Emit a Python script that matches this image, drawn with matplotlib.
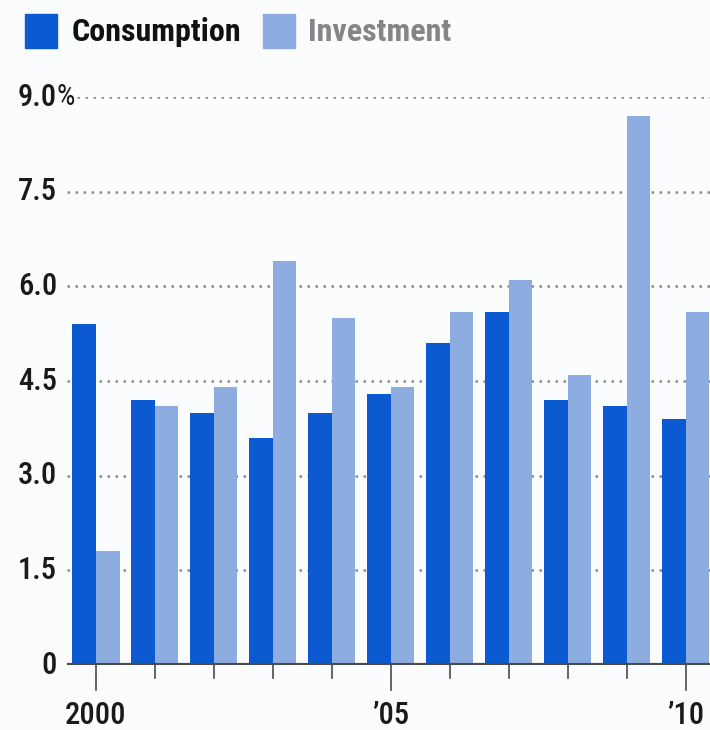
import numpy as np
import matplotlib.pyplot as plt
from matplotlib.patches import Rectangle

years = np.arange(2000, 2011)
consumption = [5.4, 4.2, 4.0, 3.6, 4.0, 4.3, 5.1, 5.6, 4.2, 4.1, 3.9]
investment = [1.8, 4.1, 4.4, 6.4, 5.5, 4.4, 5.6, 6.1, 4.6, 8.7, 5.6]
yticks = [0, 1.5, 3.0, 4.5, 6.0, 7.5, 9.0]
ytick_labels = ['0', '1.5', '3.0', '4.5', '6.0', '7.5', '9.0']
xlabels = {2000: '2000', 2005: '\u201905', 2010: '\u201910'}

dark = '#0b5ad2'
light = '#8dade0'
fonts = ['Liberation Sans Narrow', 'Roboto Condensed', 'Liberation Sans', 'DejaVu Sans']
ink = '#1a1a1a'

fig = plt.figure(figsize=(7.1, 7.3), dpi=100, facecolor='#fbfcfd')
ax = fig.add_axes([67/710, 65/730, 643/710, 568/730])
ax.set_facecolor('#fbfcfd')

w = 0.40
ax.bar(years - w/2, consumption, width=w, color=dark, zorder=2)
ax.bar(years + w/2, investment, width=w, color=light, zorder=2)

ax.set_xlim(1999.51, 2010.41)
ax.set_ylim(0, 9.0)

# dotted gridlines behind the bars
for v in yticks[1:]:
    start = 10/643 if v == 9.0 else 0
    ax.axhline(v, xmin=start, color='#8a8a8a', lw=1.8, ls=(0, (1, 2.2)), zorder=1)

for s in ax.spines.values():
    s.set_visible(False)
ax.axhline(0, color='#4a4a4a', lw=3, zorder=3)

ax.set_xticks([])
ax.set_yticks([])
# year ticks below the baseline, longer ones for labelled years
for yr in years:
    ln = 25 if yr in xlabels else 13
    ax.plot([yr, yr], [0, -ln/63.1], color='#4a4a4a', lw=1.2, clip_on=False, zorder=3)
    if yr in xlabels:
        ax.text(yr, -50/63.1, xlabels[yr], ha='center', va='center', fontsize=22,
                fontweight='medium', family=fonts, color=ink, clip_on=False)

for v, lab in zip(yticks, ytick_labels):
    ax.text(-10/643, v, lab, transform=ax.get_yaxis_transform(), ha='right',
            va='center', fontsize=22, fontweight='medium', family=fonts, color=ink)
ax.text(-10/643, 9.0, '%', transform=ax.get_yaxis_transform(), ha='left', va='center',
        fontsize=21, family=fonts, color=ink)

# legend across the top
fig.patches.append(Rectangle((25/710, 1 - 48/730), 32/710, 34/730, transform=fig.transFigure,
                             color=dark))
fig.text(72/710, 1 - 32/730, 'Consumption', ha='left', va='center', fontsize=23,
         fontweight='bold', family=fonts, color='#111111')
fig.patches.append(Rectangle((263/710, 1 - 48/730), 32/710, 34/730, transform=fig.transFigure,
                             color=light))
fig.text(308/710, 1 - 32/730, 'Investment', ha='left', va='center', fontsize=23,
         fontweight='bold', family=fonts, color='#858585')

fig.savefig('out.png', dpi=100, facecolor=fig.get_facecolor())
